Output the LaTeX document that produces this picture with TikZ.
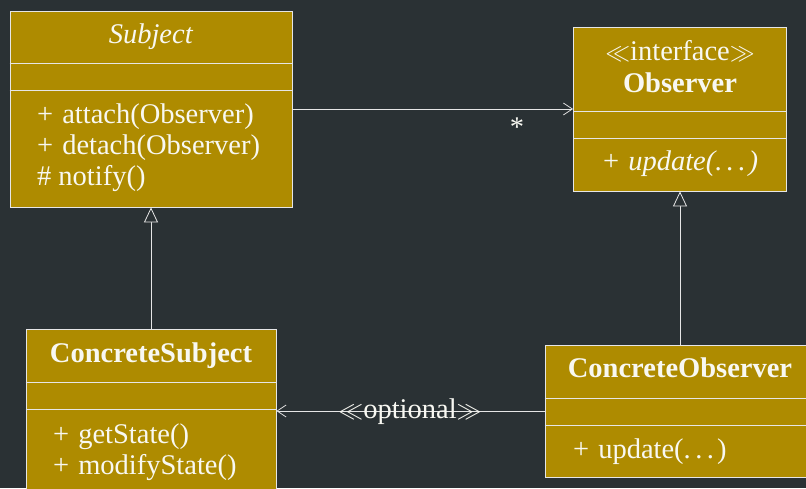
\documentclass[tikz,border=0pt]{standalone}
\usepackage{fontspec}
\setmainfont{Liberation Serif}
\usetikzlibrary{arrows.meta}
\definecolor{bgdark}{HTML}{2A3134}
\definecolor{boxgold}{HTML}{AE8B00}
\definecolor{linewhite}{HTML}{E6E6E6}
\definecolor{textwhite}{HTML}{F8F8F2}
\newcommand{\vis}[1]{#1\kern9pt}
\newcommand{\dotsarg}{.\kern4.5pt.\kern4.5pt.\kern3pt}
\tikzset{
  umlbox/.style={draw=linewhite, fill=boxgold, line width=0.8pt, inner sep=0pt},
  divider/.style={draw=linewhite, line width=0.8pt},
  txt/.style={text=textwhite, inner sep=0pt, font=\fontsize{28.5}{32}\selectfont},
  member/.style={txt, anchor=base west},
  title/.style={txt, anchor=base},
  conn/.style={draw=linewhite, line width=0.8pt},
  assoc/.style={conn, -{Straight Barb[length=9pt, width=12pt, line width=0.8pt]}},
  inherit/.style={conn, -{Triangle[open, length=15pt, width=14pt, line width=0.8pt, fill=bgdark]}},
}
\begin{document}
\begin{tikzpicture}[x=1pt, y=-1pt]
  % canvas
  \fill[bgdark] (0,0) rectangle (806,488);
  \useasboundingbox (0,0) rectangle (806,488);
  \clip (0,0) rectangle (806,488);

  % Subject
  \node[umlbox, minimum width=282pt, minimum height=196pt] (subj) at (151,109) {};
  \draw[divider] (subj.west |- 0,63) -- (subj.east |- 0,63);
  \draw[divider] (subj.west |- 0,90) -- (subj.east |- 0,90);
  \node[title] (subjname) at (151,43) {\textit{Subject}};
  \node[member] (subjm1) at (37,123) {\vis{+}attach(Observer)};
  \node[member] (subjm2) at (37,154) {\vis{+}detach(Observer)};
  \node[member] (subjm3) at (37,185) {\#\kern7pt notify()};

  % Observer interface
  \node[umlbox, minimum width=213pt, minimum height=164pt] (obs) at (680,109) {};
  \draw[divider] (obs.west |- 0,111) -- (obs.east |- 0,111);
  \draw[divider] (obs.west |- 0,138) -- (obs.east |- 0,138);
  \node[title] (obsstereo) at (680,60) {$\ll$interface$\gg$};
  \node[title] (obsname) at (680,92) {\textbf{Observer}};
  \node[member] (obsm1) at (603,170) {\vis{+}\textit{update(\dotsarg)}};

  % ConcreteSubject
  \node[umlbox, minimum width=250pt, minimum height=166pt] (csubj) at (151,412) {};
  \draw[divider] (csubj.west |- 0,382) -- (csubj.east |- 0,382);
  \draw[divider] (csubj.west |- 0,409) -- (csubj.east |- 0,409);
  \node[title] (csubjname) at (151,362) {\textbf{ConcreteSubject}};
  \node[member] (csubjm1) at (53,443) {\vis{+}getState()};
  \node[member] (csubjm2) at (53,474) {\vis{+}modifyState()};

  % ConcreteObserver
  \node[umlbox, minimum width=270pt, minimum height=132pt] (cobs) at (680,411) {};
  \draw[divider] (cobs.west |- 0,398) -- (cobs.east |- 0,398);
  \draw[divider] (cobs.west |- 0,425) -- (cobs.east |- 0,425);
  \node[title] (cobsname) at (680,377) {\textbf{ConcreteObserver}};
  \node[member] (cobsm1) at (573,458) {\vis{+}update(\dotsarg)};

  % association Subject -> Observer
  \draw[assoc] (subj.east |- 0,109) -- (obs.west |- 0,109);
  \node[txt] (mult) at (517,127) {*};

  % generalisations
  \draw[inherit] (csubj.north) -- (subj.south);
  \draw[inherit] (cobs.north) -- (obs.south);

  % optional dependency
  \draw[assoc] (cobs.west |- 0,411) -- (csubj.east |- 0,411);
  \node[title] (optlabel) at (410,418) {$\ll$optional$\gg$};
\end{tikzpicture}
\end{document}
